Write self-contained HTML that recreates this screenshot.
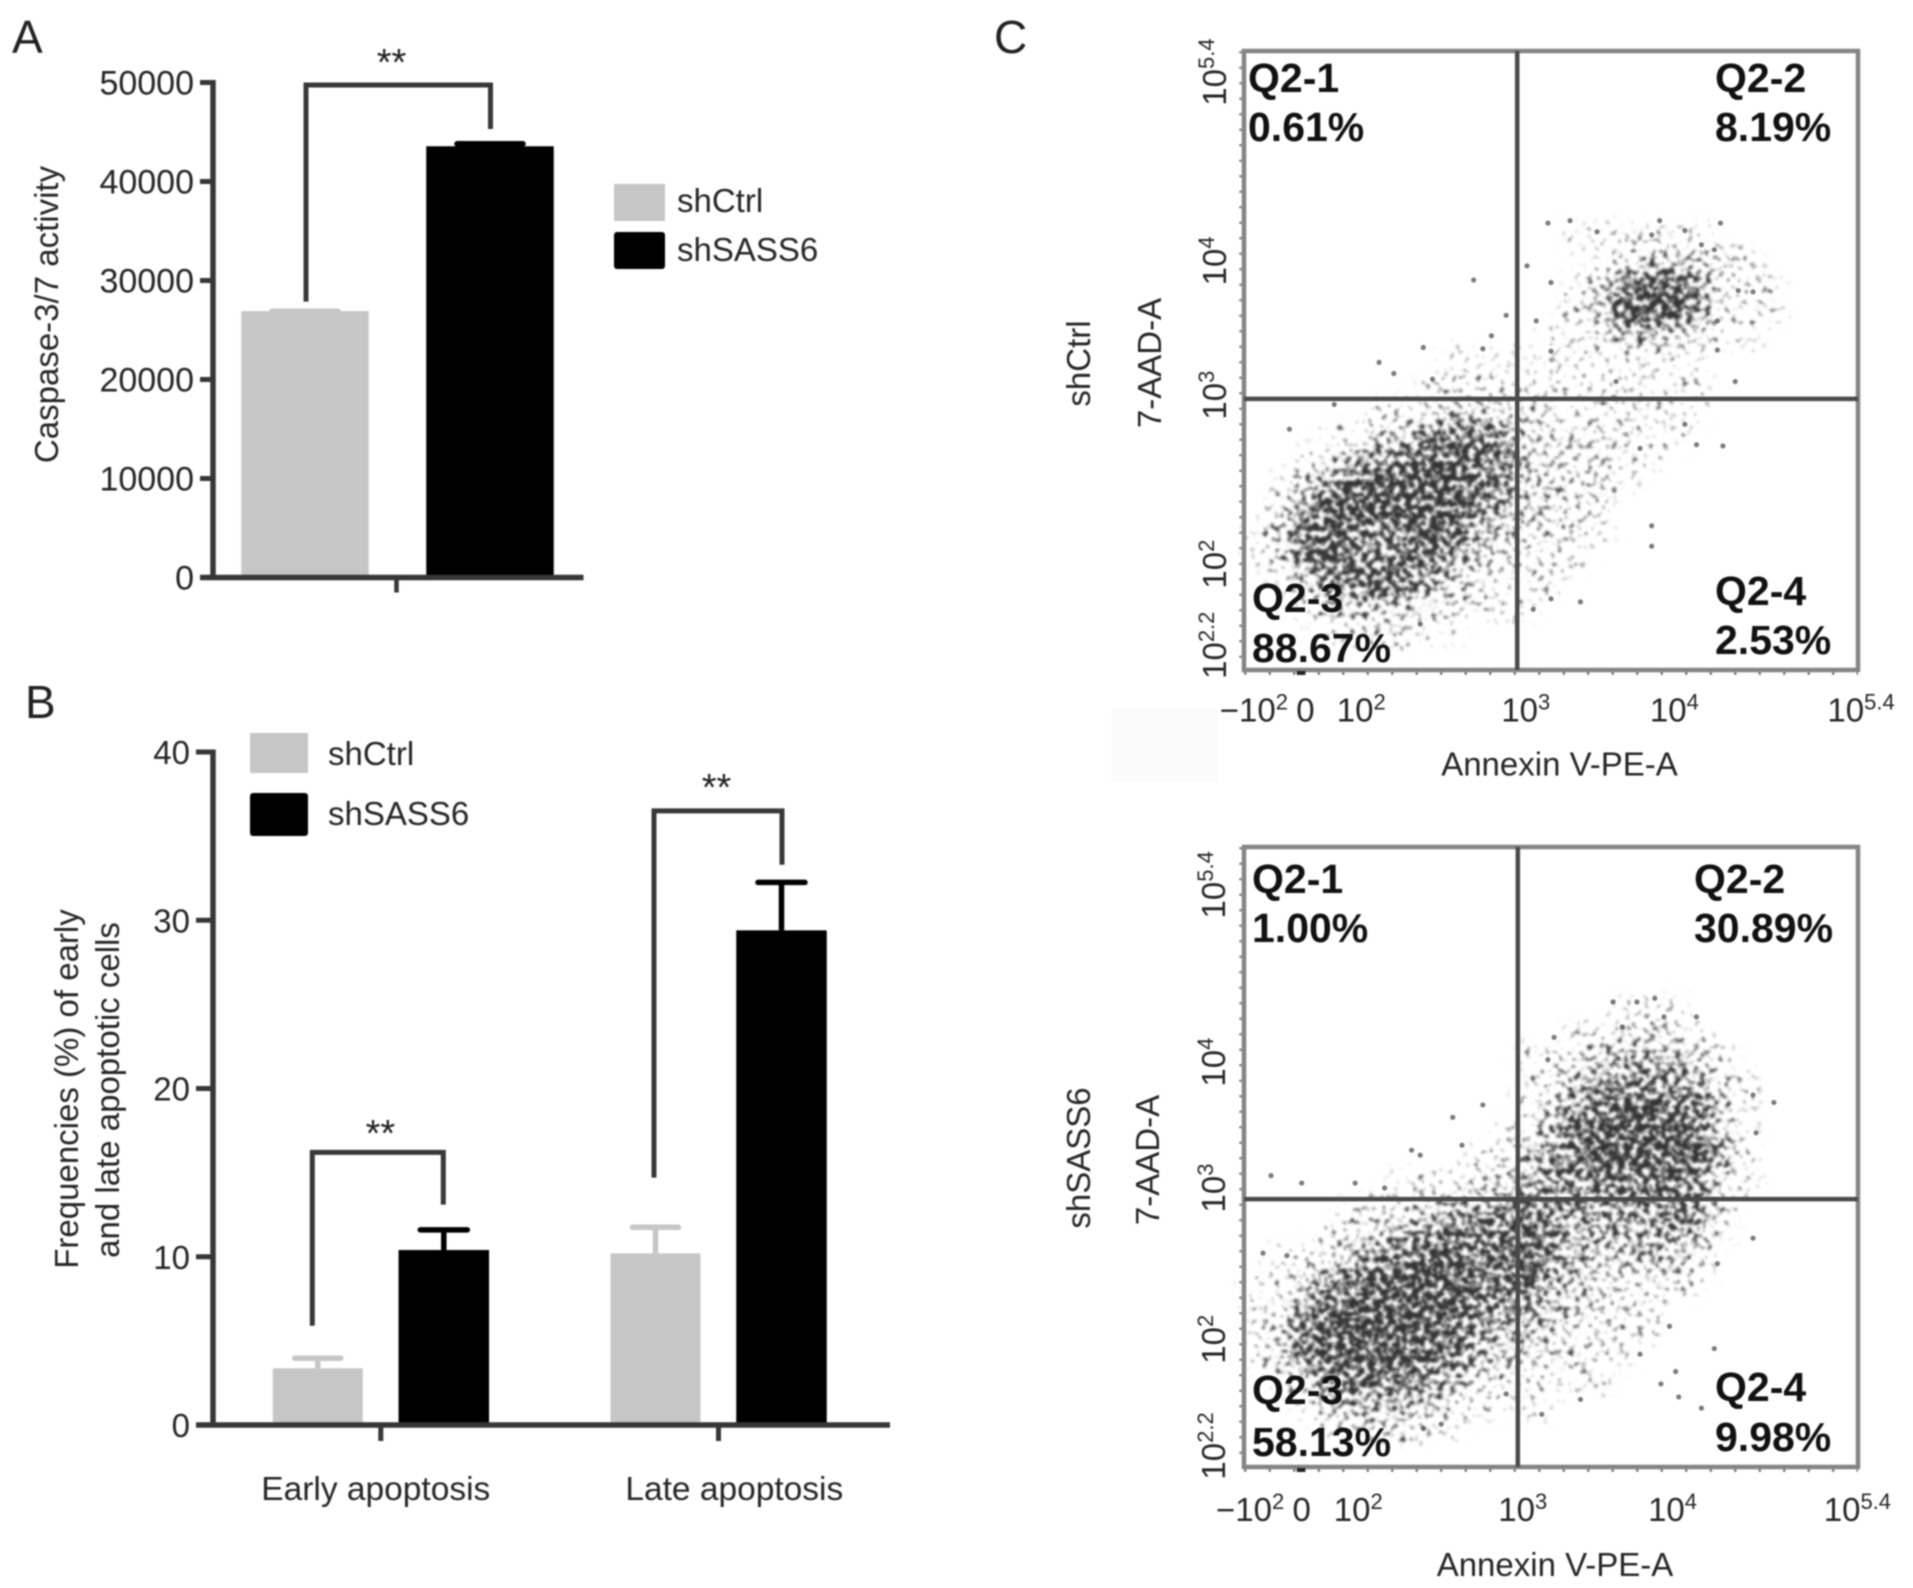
<!DOCTYPE html>
<html lang="en">
<head>
<meta charset="utf-8">
<title>Caspase activity and apoptosis after SASS6 knockdown</title>
<style>
html,body{margin:0;padding:0;background:#fff;width:1913px;height:1588px;overflow:hidden}
svg{display:block;filter:blur(0.9px)}
text{font-family:"Liberation Sans",sans-serif;fill:#262626}
.t33{font-size:33px}
.tick{font-size:33px}
.letter{font-size:46px;fill:#222}
.q{font-size:41px;font-weight:bold;fill:#111}
.star{font-size:38px;fill:#222;text-anchor:middle}
</style>
</head>
<body>
<svg id="figure" xmlns="http://www.w3.org/2000/svg" width="1913" height="1588" viewBox="0 0 1913 1588">
  <defs>
    <filter id="speckle" filterUnits="userSpaceOnUse" x="1200" y="0" width="713" height="1588" color-interpolation-filters="sRGB">
      <feGaussianBlur in="SourceGraphic" stdDeviation="7" result="soft"/>
      <feTurbulence type="fractalNoise" baseFrequency="0.16" numOctaves="2" seed="7" result="noise"/>
      <feColorMatrix in="noise" type="matrix" values="0 0 0 0 0  0 0 0 0 0  0 0 0 0 0  1 0 0 0 0" result="noiseAlpha"/>
      <feComposite in="soft" in2="noiseAlpha" operator="arithmetic" k1="0" k2="1.4" k3="4" k4="-2.6" result="thresholded"/>
      <feComponentTransfer in="soft" result="softMask">
        <feFuncA type="linear" slope="8"/>
      </feComponentTransfer>
      <feComposite in="thresholded" in2="softMask" operator="in" result="dots"/>
      <feComponentTransfer in="dots" result="dim">
        <feFuncA type="linear" slope="0.8"/>
      </feComponentTransfer>
      <feGaussianBlur in="dim" stdDeviation="1"/>
    </filter>
  </defs>
  <rect x="0" y="0" width="1913" height="1588" fill="#fff"/>
  <rect x="1112" y="708" width="106" height="74" fill="#fbfbfb"/>

  <text class="letter" x="12" y="53">A</text>
  <text class="letter" x="25" y="718">B</text>
  <text class="letter" x="994" y="53">C</text>

  <!-- Panel A -->
  <g id="panelA"></g>
  <text class="t33" transform="translate(58 314.5) rotate(-90)" text-anchor="middle">Caspase-3/7 activity</text>
  <rect x="614" y="184" width="51" height="37" fill="#c6c6c6"/>
  <rect x="614" y="232" width="51" height="37" rx="3" fill="#000"/>
  <text class="t33" x="677" y="212">shCtrl</text>
  <text class="t33" x="677" y="261">shSASS6</text>

  <!-- Panel B -->
  <g id="panelB"></g>
  <text class="t33" transform="translate(78 1089) rotate(-90)" text-anchor="middle">Frequencies (%) of early</text>
  <text class="t33" transform="translate(119 1090) rotate(-90)" text-anchor="middle">and late apoptotic cells</text>
  <rect x="250" y="733" width="58" height="40" fill="#c6c6c6"/>
  <rect x="250" y="793" width="58" height="43" rx="3" fill="#000"/>
  <text class="t33" x="328" y="765">shCtrl</text>
  <text class="t33" x="328" y="825">shSASS6</text>

  <!-- Panel C -->
  <g id="plotTop"></g>
  <g id="plotBottom"></g>

  <text class="q" x="1248" y="92">Q2-1</text>
  <text class="q" x="1248" y="141">0.61%</text>
  <text class="q" x="1715" y="92">Q2-2</text>
  <text class="q" x="1715" y="141">8.19%</text>
  <text class="q" x="1252" y="612">Q2-3</text>
  <text class="q" x="1252" y="662">88.67%</text>
  <text class="q" x="1715" y="605">Q2-4</text>
  <text class="q" x="1715" y="654">2.53%</text>

  <text class="q" x="1252" y="893">Q2-1</text>
  <text class="q" x="1252" y="942">1.00%</text>
  <text class="q" x="1694" y="893">Q2-2</text>
  <text class="q" x="1694" y="942">30.89%</text>
  <text class="q" x="1252" y="1404">Q2-3</text>
  <text class="q" x="1252" y="1456">58.13%</text>
  <text class="q" x="1715" y="1401">Q2-4</text>
  <text class="q" x="1715" y="1451">9.98%</text>

  <text class="t33" x="1559.5" y="775.5" text-anchor="middle">Annexin V-PE-A</text>
  <text class="t33" x="1555" y="1576" text-anchor="middle">Annexin V-PE-A</text>
  <text class="t33" transform="translate(1161 363) rotate(-90)" text-anchor="middle">7-AAD-A</text>
  <text class="t33" transform="translate(1159 1160) rotate(-90)" text-anchor="middle">7-AAD-A</text>
  <text class="t33" transform="translate(1090 363.5) rotate(-90)" text-anchor="middle">shCtrl</text>
  <text class="t33" transform="translate(1090 1158) rotate(-90)" text-anchor="middle">shSASS6</text>
</svg>

<script>
/* ---------- Panel A data ---------- */
const caspaseTicks = [0, 10000, 20000, 30000, 40000, 50000];
const caspaseGroups = ['shCtrl', 'shSASS6'];
const caspaseValues = [26900, 43560];
const caspaseErrors = [0, 250];
const caspaseBracket = [27870, 49750, 45300];

/* ---------- Panel B data ---------- */
const apoptosisTicks = [0, 10, 20, 30, 40];
const apoptosisCategories = ['Early apoptosis', 'Late apoptosis'];
const apoptosisCtrl = [3.37, 10.2];
const apoptosisSass = [10.4, 29.4];
const apoptosisCtrlErr = [0.6, 1.55];
const apoptosisSassErr = [1.2, 2.85];
const earlyBracket = [5.9, 16.2, 13.1];
const lateBracket = [14.7, 36.5, 33.3];

/* ---------- Panel C data: acquisition channels 0-1000 on each axis ---------- */
const flowXLabels = [['\u221210', '2'], ['0', ''], ['10', '2'], ['10', '3'], ['10', '4'], ['10', '5.4']];
const flowYLabels = [['10', '2.2'], ['10', '2'], ['10', '3'], ['10', '4'], ['10', '5.4']];
const topXTicks = [16, 100, 191, 459, 701, 1005];
const topYTicks = [40, 171, 444, 661, 966];
const bottomXTicks = [10, 94, 186, 454, 698, 999];
const bottomYTicks = [34, 206, 450, 653, 939];
const topGate = [445, 438];
const bottomGate = [446, 432];

/* density per 40-channel bin, rows listed from high 7-AAD to low, 0 = empty, 9 = densest */
const topDensity = [
[0,0,0,0,0,0,0,0,0,0,0,0,0,0,0,0,0,0,0,0,0,0,0,0,0],
[0,0,0,0,0,0,0,0,0,0,0,0,0,0,0,0,0,0,0,0,0,0,0,0,0],
[0,0,0,0,0,0,0,0,0,0,0,0,0,0,0,0,0,0,0,0,0,0,0,0,0],
[0,0,0,0,0,0,0,0,0,0,0,0,0,0,0,0,0,0,0,0,0,0,0,0,0],
[0,0,0,0,0,0,0,0,0,0,0,0,0,0,0,0,0,0,0,0,0,0,0,0,0],
[0,0,0,0,0,0,0,0,0,0,0,0,0,0,0,0,0,0,0,0,0,0,0,0,0],
[0,0,0,0,0,0,0,0,0,0,0,0,0,0,0,0,0,0,0,0,0,0,0,0,0],
[0,0,0,0,0,0,0,0,0,0,0,0,0,1,1,1,1,1,1,0,0,0,0,0,0],
[0,0,0,0,0,0,0,0,0,0,0,0,0,0,1,2,3,3,3,2,1,0,0,0,0],
[0,0,0,0,0,0,0,0,0,0,0,0,0,1,3,6,7,7,5,2,1,1,0,0,0],
[0,0,0,0,0,0,0,0,0,0,0,0,0,2,3,7,8,8,5,1,1,1,0,0,0],
[0,0,0,0,0,0,0,0,0,0,0,0,1,1,2,3,4,3,2,1,1,0,0,0,0],
[0,0,0,0,0,0,0,0,1,1,1,1,1,1,1,1,1,1,1,0,0,0,0,0,0],
[0,0,0,0,0,0,0,1,1,1,1,1,1,1,1,1,1,1,1,0,0,0,0,0,0],
[0,0,0,0,0,1,1,2,3,3,2,2,2,1,1,1,1,1,1,0,0,0,0,0,0],
[0,0,0,1,1,3,3,5,6,6,5,3,2,2,2,2,1,1,0,0,0,0,0,0,0],
[0,0,1,2,4,5,6,7,7,6,6,3,2,2,2,1,1,0,0,0,0,0,0,0,0],
[0,1,3,5,7,7,7,8,7,6,5,3,3,2,2,1,0,0,0,0,0,0,0,0,0],
[0,2,5,7,7,7,7,8,7,6,4,3,2,2,1,0,0,0,0,0,0,0,0,0,0],
[1,3,6,7,6,5,6,7,7,4,3,2,2,2,1,0,0,0,0,0,0,0,0,0,0],
[1,2,6,7,6,5,6,6,4,3,2,1,1,1,0,0,0,0,0,0,0,0,0,0,0],
[0,1,3,5,6,7,6,4,3,2,1,1,1,0,0,0,0,0,0,0,0,0,0,0,0],
[0,0,1,2,3,3,3,2,2,1,1,1,0,0,0,0,0,0,0,0,0,0,0,0,0],
[0,0,0,1,2,2,2,1,1,0,0,0,0,0,0,0,0,0,0,0,0,0,0,0,0],
[0,0,0,0,0,0,0,0,0,0,0,0,0,0,0,0,0,0,0,0,0,0,0,0,0]
];
const bottomDensity = [
[0,0,0,0,0,0,0,0,0,0,0,0,0,0,0,0,0,0,0,0,0,0,0,0,0],
[0,0,0,0,0,0,0,0,0,0,0,0,0,0,0,0,0,0,0,0,0,0,0,0,0],
[0,0,0,0,0,0,0,0,0,0,0,0,0,0,0,0,0,0,0,0,0,0,0,0,0],
[0,0,0,0,0,0,0,0,0,0,0,0,0,0,0,0,0,0,0,0,0,0,0,0,0],
[0,0,0,0,0,0,0,0,0,0,0,0,0,0,0,0,0,0,0,0,0,0,0,0,0],
[0,0,0,0,0,0,0,0,0,0,0,0,0,0,0,0,0,0,0,0,0,0,0,0,0],
[0,0,0,0,0,0,0,0,0,0,0,0,0,0,0,1,1,1,0,0,0,0,0,0,0],
[0,0,0,0,0,0,0,0,0,0,0,0,0,1,1,2,3,2,1,0,0,0,0,0,0],
[0,0,0,0,0,0,0,0,0,0,0,1,1,2,3,4,4,4,3,1,0,0,0,0,0],
[0,0,0,0,0,0,0,0,0,0,0,1,2,4,5,5,5,5,4,2,1,0,0,0,0],
[0,0,0,0,0,0,0,0,0,0,0,1,3,5,6,7,7,6,6,3,1,0,0,0,0],
[0,0,0,0,0,0,0,0,0,0,1,2,4,6,7,7,7,7,6,3,1,0,0,0,0],
[0,0,0,0,0,0,0,0,0,1,1,3,5,6,7,7,7,7,7,4,1,0,0,0,0],
[0,0,0,0,0,0,1,1,1,2,3,4,5,5,6,6,6,6,5,2,1,0,0,0,0],
[0,0,0,0,1,1,2,3,4,4,5,6,5,5,5,5,5,6,5,2,0,0,0,0,0],
[0,0,0,1,2,3,4,5,6,6,6,7,5,4,4,4,4,5,4,1,0,0,0,0,0],
[0,1,1,2,4,5,6,7,7,6,6,7,5,4,3,3,4,3,2,0,0,0,0,0,0],
[1,1,3,5,6,7,7,7,7,6,6,7,4,3,3,2,2,2,1,0,0,0,0,0,0],
[1,2,5,6,7,7,8,7,7,6,5,5,3,3,2,2,1,0,0,0,0,0,0,0,0],
[1,3,6,7,7,7,7,7,6,5,4,4,3,2,2,1,1,0,0,0,0,0,0,0,0],
[1,3,6,7,7,8,7,6,6,4,3,2,2,2,1,1,0,0,0,0,0,0,0,0,0],
[0,1,3,5,6,6,6,5,4,2,2,1,1,1,1,0,0,0,0,0,0,0,0,0,0],
[0,0,1,3,4,4,4,3,2,1,1,1,1,0,0,0,0,0,0,0,0,0,0,0,0],
[0,0,0,1,1,2,2,1,1,0,0,0,0,0,0,0,0,0,0,0,0,0,0,0,0],
[0,0,0,0,0,0,0,0,0,0,0,0,0,0,0,0,0,0,0,0,0,0,0,0,0]
];

/* individually visible outlying events */
const topEventsX = [495,531,575,677,776,664,718,374,427,461,500,805,829,766,745,771,476,403,292,220,244,307,389,500,606,771,800,718,737,780,645,664,664,548,500,471,287,74,147];
const topEventsY = [722,726,708,726,722,703,710,630,573,653,626,613,611,679,687,564,564,540,521,497,479,470,519,515,466,517,466,397,364,362,358,233,200,110,115,98,74,389,429];
const bottomEventsX = [601,640,669,684,737,505,616,495,863,829,834,340,389,273,287,355,44,94,181,229,829,771,766,703,708,745,679,548,485,427,321,292,31,70,693,645];
const bottomEventsY = [750,750,756,726,726,693,710,657,588,600,539,564,584,511,503,519,470,458,458,450,369,328,191,154,113,95,134,109,85,118,69,62,345,341,227,182];

/* ---------- helpers ---------- */
const NS = 'http://www.w3.org/2000/svg';
function mk(parent, tag) {
  const el = document.createElementNS(NS, tag);
  parent.appendChild(el);
  return el;
}
function setAll(el, attrs) {
  for (const k in attrs) el.setAttribute(k, attrs[k]);
  return el;
}
function barAxes(g, cfg) {
  const axisY = setAll(mk(g, 'line'), {x1: cfg.axisX, x2: cfg.axisX, y1: cfg.y(cfg.ticks[cfg.ticks.length - 1]) - 2.5, y2: cfg.y(0) + 2.5, stroke: '#363636', 'stroke-width': 5.5});
  
  
  cfg.ticks.forEach(function (v) {
    const tk = setAll(mk(g, 'line'), {x1: cfg.tickX, x2: cfg.axisX, y1: cfg.y(v), y2: cfg.y(v), stroke: '#363636', 'stroke-width': 5});
    
    
    const lb = setAll(mk(g, 'text'), {x: cfg.tickX - 6, y: cfg.y(v) + 12, 'text-anchor': 'end', 'font-size': cfg.fontSize});
    
    
    lb.textContent = String(v);
  });
}
function drawBar(g, x, w, y0, yTop, color, name) {
  const r = setAll(mk(g, 'rect'), {x: x - w / 2, y: yTop, width: w, height: y0 - yTop, fill: color});
  
  
}
function drawError(g, x, capW, yTop, yEnd, color, name) {
  const stem = setAll(mk(g, 'line'), {x1: x, x2: x, y1: yTop, y2: yEnd, stroke: color, 'stroke-width': 5.5});
  
  
  const cap = setAll(mk(g, 'line'), {x1: x - capW / 2, x2: x + capW / 2, y1: yTop, y2: yTop, stroke: color, 'stroke-width': 5.5, 'stroke-linecap': 'round'});
  
  
}
function drawBracket(g, xa, xb, yTop, ya, yb, name) {
  const p = setAll(mk(g, 'path'), {d: 'M' + xa + ' ' + ya + 'V' + yTop + 'H' + xb + 'V' + yb, fill: 'none', stroke: '#383838', 'stroke-width': 5});
  
  
}
function drawStars(g, x, y, name) {
  const s = setAll(mk(g, 'text'), {x: x, y: y, class: 'star'});
  
  
  s.textContent = '**';
}

/* ---------- Panel A ---------- */
(function () {
  const g = document.getElementById('panelA');
  const y = function (v) { return 577.5 - v / 50000 * 495; };
  const cx = function (i) { return 305 + i * 185; };
  const colors = ['#c6c6c6', '#000'];
  caspaseGroups.forEach(function (name, i) {
    drawBar(g, cx(i), 127.5, y(0), y(caspaseValues[i]), colors[i], 'caspase-bar-' + name.toLowerCase());
    drawError(g, cx(i), 66, y(caspaseValues[i] + caspaseErrors[i]), y(caspaseValues[i]), colors[i], 'caspase-error-' + name.toLowerCase());
  });
  barAxes(g, {axisX: 213, tickX: 200, y: y, ticks: caspaseTicks, fontSize: 34});
  const base = setAll(mk(g, 'line'), {x1: 200, x2: 583.5, y1: y(0), y2: y(0), stroke: '#363636', 'stroke-width': 5.5});
  
  
  const tk = setAll(mk(g, 'line'), {x1: 396.5, x2: 396.5, y1: y(0), y2: y(0) + 15, stroke: '#363636', 'stroke-width': 4.5});
  
  
  drawBracket(g, cx(0) + 1, cx(1) + 0.5, y(caspaseBracket[1]), y(caspaseBracket[0]), y(caspaseBracket[2]), 'significance-bracket');
  drawStars(g, 391.5, 75, 'significance-stars');
})();

/* ---------- Panel B ---------- */
(function () {
  const g = document.getElementById('panelB');
  const y = function (v) { return 1425 - v / 40 * 673; };
  const group = function (i) { return 380.8 + i * 337.7; };
  apoptosisCategories.forEach(function (name, i) {
    const key = name.split(' ')[0].toLowerCase();
    const xc = group(i) - 63;
    const xs = group(i) + 63;
    drawBar(g, xc, 90, y(0), y(apoptosisCtrl[i]), '#c6c6c6', 'bar-' + key + '-shctrl');
    drawError(g, xc, 46, y(apoptosisCtrl[i] + apoptosisCtrlErr[i]), y(apoptosisCtrl[i]), '#c6c6c6', 'error-' + key + '-shctrl');
    drawBar(g, xs, 90.5, y(0), y(apoptosisSass[i]), '#000', 'bar-' + key + '-shsass6');
    drawError(g, xs, 47, y(apoptosisSass[i] + apoptosisSassErr[i]), y(apoptosisSass[i]), '#000', 'error-' + key + '-shsass6');
  });
  barAxes(g, {axisX: 213, tickX: 196, y: y, ticks: apoptosisTicks, fontSize: 33});
  const base = setAll(mk(g, 'line'), {x1: 196, x2: 890, y1: y(0), y2: y(0), stroke: '#363636', 'stroke-width': 5.5});
  
  
  apoptosisCategories.forEach(function (name, i) {
    const tk = setAll(mk(g, 'line'), {x1: group(i), x2: group(i), y1: y(0), y2: y(0) + 16, stroke: '#363636', 'stroke-width': 5});
    
    
    const lb = setAll(mk(g, 'text'), {x: group(i) + (i ? 15.8 : -5), y: 1500, 'text-anchor': 'middle', 'font-size': 33.5});
    
    
    lb.textContent = name;
  });
  drawBracket(g, group(0) - 68.5, group(0) + 62.5, y(earlyBracket[1]), y(earlyBracket[0]), y(earlyBracket[2]), 'significance-bracket-early');
  drawBracket(g, group(1) - 64.5, group(1) + 63.5, y(lateBracket[1]), y(lateBracket[0]), y(lateBracket[2]), 'significance-bracket-late');
  drawStars(g, 380.4, 1146, 'significance-stars-early');
  drawStars(g, 716.5, 800, 'significance-stars-late');
})();

/* ---------- Panel C ---------- */
function drawFlow(rootId, box, density, evX, evY, gate, xTicks, yTicks, xBase, yBase) {
  const g = document.getElementById(rootId);
  const sx = function (c) { return box.x + c / 1000 * box.w; };
  const sy = function (c) { return box.y + box.h - c / 1000 * box.h; };
  const binSize = 40;

  const cloud = setAll(mk(g, 'g'), {filter: 'url(#speckle)'});
  
  
  density.forEach(function (row, r) {
    const chanTop = 1000 - r * binSize;
    row.forEach(function (d, c) {
      if (!d) return;
      const cell = setAll(mk(cloud, 'rect'), {
        x: sx(c * binSize), y: sy(chanTop),
        width: sx((c + 1) * binSize) - sx(c * binSize) + 0.5,
        height: sy(chanTop - binSize) - sy(chanTop) + 0.5,
        fill: '#000', opacity: Math.min(1, d / 7)
      });
      
      
    });
  });

  evX.forEach(function (c, i) {
    const p = setAll(mk(g, 'circle'), {cx: sx(c), cy: sy(evY[i]), r: 2.6, fill: '#444', opacity: 0.7});
    
    
  });

  const frame = setAll(mk(g, 'rect'), {x: box.x, y: box.y, width: box.w, height: box.h, fill: 'none', stroke: '#858585', 'stroke-width': 4.5});
  
  
  const dashLeft = setAll(mk(g, 'line'), {x1: box.x - 3.5, x2: box.x - 3.5, y1: box.y, y2: box.y + box.h, stroke: '#8a8a8a', 'stroke-width': 2.5, 'stroke-dasharray': '2.5 13'});
  
  
  const dashBottom = setAll(mk(g, 'line'), {x1: box.x, x2: box.x + box.w, y1: box.y + box.h + 3.5, y2: box.y + box.h + 3.5, stroke: '#777', 'stroke-width': 2.5, 'stroke-dasharray': '2.5 22'});
  
  
  const zeroMark = setAll(mk(g, 'line'), {x1: sx(86), x2: sx(100), y1: box.y + box.h + 3, y2: box.y + box.h + 3, stroke: '#222', 'stroke-width': 4});
  
  
  const gv = setAll(mk(g, 'line'), {x1: sx(gate[0]), x2: sx(gate[0]), y1: box.y, y2: box.y + box.h, stroke: '#4a4a4a', 'stroke-width': 4.5});
  
  
  const gh = setAll(mk(g, 'line'), {x1: box.x, x2: box.x + box.w, y1: sy(gate[1]), y2: sy(gate[1]), stroke: '#4a4a4a', 'stroke-width': 4.5});
  
  

  flowXLabels.forEach(function (lab, i) {
    const t = setAll(mk(g, 'text'), {x: sx(xTicks[i]), y: xBase, 'text-anchor': 'middle', class: 'tick'});
    
    
    t.appendChild(document.createTextNode(lab[0]));
    if (lab[1]) {
      const sup = setAll(mk(t, 'tspan'), {dy: -12, 'font-size': 22});
      sup.textContent = lab[1];
    }
  });
  flowYLabels.forEach(function (lab, i) {
    const t = setAll(mk(g, 'text'), {transform: 'translate(' + yBase + ' ' + sy(yTicks[i]) + ') rotate(-90)', 'text-anchor': 'middle', class: 'tick'});
    
    
    t.appendChild(document.createTextNode(lab[0]));
    const sup = setAll(mk(t, 'tspan'), {dy: -12, 'font-size': 22});
    sup.textContent = lab[1];
  });
}

drawFlow('plotTop', {x: 1244, y: 51, w: 614, h: 619}, topDensity, topEventsX, topEventsY, topGate, topXTicks, topYTicks, 721.5, 1226);
drawFlow('plotBottom', {x: 1244, y: 847, w: 614, h: 620}, bottomDensity, bottomEventsX, bottomEventsY, bottomGate, bottomXTicks, bottomYTicks, 1521, 1225);
</script>
</body>
</html>
